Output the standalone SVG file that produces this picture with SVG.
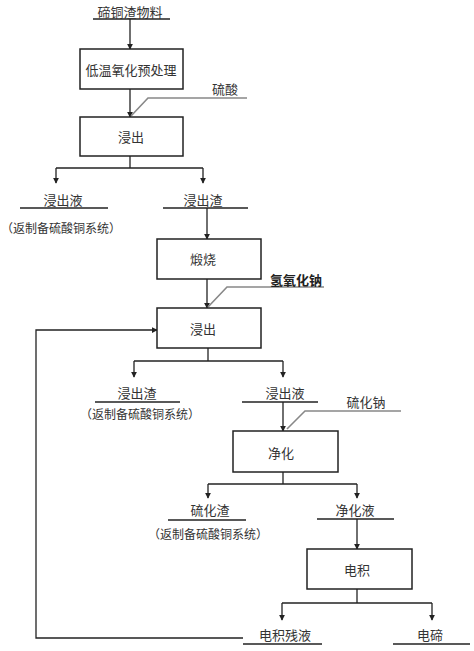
<svg xmlns="http://www.w3.org/2000/svg" width="474" height="651" viewBox="0 0 474 651">
<style>
text{font-family:"Noto Sans CJK SC","Noto Sans CJK JP",sans-serif;font-size:13px;fill:#333;text-anchor:middle;dominant-baseline:central}
.s{font-size:12px}
.b{fill:#fff;stroke:#222;stroke-width:1.5}
.l{fill:none;stroke:#222;stroke-width:1.3}
.g{fill:none;stroke:#888;stroke-width:1.6}
.bold{font-weight:bold;fill:#222}
</style>
<defs>
<marker id="a" viewBox="0 0 8 10" refX="7" refY="5" markerWidth="6" markerHeight="8" orient="auto" markerUnits="userSpaceOnUse">
<path d="M0,1 L8,5 L0,9 Z" fill="#222"/>
</marker>
</defs>
<g id="connectors">
<line class="l" x1="93" y1="19" x2="170" y2="19"/>
<line class="l" x1="130" y1="19" x2="130" y2="49" marker-end="url(#a)"/>
<line class="l" x1="130" y1="89" x2="130" y2="117" marker-end="url(#a)"/>
<polyline class="g" points="247,98 148,98 131,116"/>
<polyline class="l" points="130,156 130,168"/>
<line class="l" x1="56" y1="168" x2="203" y2="168"/>
<line class="l" x1="56" y1="168" x2="56" y2="183" marker-end="url(#a)"/>
<line class="l" x1="203" y1="168" x2="203" y2="183" marker-end="url(#a)"/>
<line class="l" x1="20" y1="208" x2="108" y2="208"/>
<line class="l" x1="163" y1="208" x2="248" y2="208"/>
<line class="l" x1="207" y1="208" x2="207" y2="239" marker-end="url(#a)"/>
<line class="l" x1="207" y1="279" x2="207" y2="308" marker-end="url(#a)"/>
<polyline class="g" points="324,287 227,287 208,307"/>
<line class="l" x1="208" y1="348" x2="208" y2="361"/>
<line class="l" x1="134" y1="361" x2="283" y2="361"/>
<line class="l" x1="134" y1="361" x2="134" y2="377" marker-end="url(#a)"/>
<line class="l" x1="283" y1="361" x2="283" y2="377" marker-end="url(#a)"/>
<line class="l" x1="95" y1="402" x2="180" y2="402"/>
<line class="l" x1="242" y1="402" x2="318" y2="402"/>
<line class="l" x1="283" y1="402" x2="283" y2="431" marker-end="url(#a)"/>
<polyline class="g" points="401,411 305,411 287,429"/>
<line class="l" x1="283" y1="472" x2="283" y2="484"/>
<line class="l" x1="208" y1="484" x2="357" y2="484"/>
<line class="l" x1="208" y1="484" x2="208" y2="498" marker-end="url(#a)"/>
<line class="l" x1="357" y1="484" x2="357" y2="498" marker-end="url(#a)"/>
<line class="l" x1="168" y1="520" x2="246" y2="520"/>
<line class="l" x1="317" y1="519" x2="394" y2="519"/>
<line class="l" x1="357" y1="519" x2="357" y2="549" marker-end="url(#a)"/>
<line class="l" x1="357" y1="589" x2="357" y2="603"/>
<line class="l" x1="282" y1="603" x2="432" y2="603"/>
<line class="l" x1="282" y1="603" x2="282" y2="620" marker-end="url(#a)"/>
<line class="l" x1="432" y1="603" x2="432" y2="620" marker-end="url(#a)"/>
<line class="l" x1="243" y1="644" x2="322" y2="644"/>
<line class="l" x1="393" y1="644" x2="470" y2="644"/>
<polyline class="l" points="243,638 36,638 36,330 157,330" marker-end="url(#a)"/>
</g>
<g id="n-feed"><text x="130" y="11">碲铜渣物料</text></g>
<g id="n-pre"><rect class="b" x="80" y="49" width="103" height="40"/><text x="131" y="69">低温氧化预处理</text></g>
<g id="n-h2so4"><text x="225" y="88">硫酸</text></g>
<g id="n-leach1"><rect class="b" x="80" y="117" width="103" height="39"/><text x="131" y="136">浸出</text></g>
<g id="n-liq1"><text x="63" y="199">浸出液</text><text class="s" x="61" y="227">（返制备硫酸铜系统）</text></g>
<g id="n-res1"><text x="203" y="199">浸出渣</text></g>
<g id="n-roast"><rect class="b" x="157" y="239" width="104" height="40"/><text x="203" y="258">煅烧</text></g>
<g id="n-naoh"><text class="bold" x="296" y="279">氢氧化钠</text></g>
<g id="n-leach2"><rect class="b" x="157" y="308" width="104" height="40"/><text x="203" y="328">浸出</text></g>
<g id="n-res2"><text x="137" y="392">浸出渣</text><text class="s" x="140" y="413">（返制备硫酸铜系统）</text></g>
<g id="n-liq2"><text x="285" y="392">浸出液</text></g>
<g id="n-na2s"><text x="366" y="401">硫化钠</text></g>
<g id="n-purify"><rect class="b" x="233" y="431" width="105" height="41"/><text x="281" y="452">净化</text></g>
<g id="n-sres"><text x="210" y="509">硫化渣</text><text class="s" x="208" y="533">（返制备硫酸铜系统）</text></g>
<g id="n-pliq"><text x="355" y="509">净化液</text></g>
<g id="n-ew"><rect class="b" x="307" y="549" width="105" height="40"/><text x="357" y="569">电积</text></g>
<g id="n-spent"><text x="285" y="634">电积残液</text></g>
<g id="n-te"><text x="430" y="634">电碲</text></g>
</svg>
